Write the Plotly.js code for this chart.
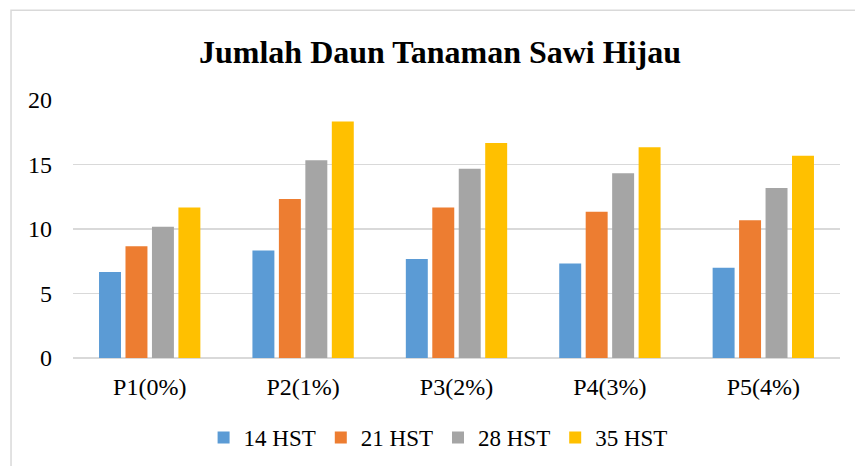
<!DOCTYPE html>
<html>
<head>
<meta charset="utf-8">
<script src="https://cdn.plot.ly/plotly-3.0.1.min.js"></script>
<style>
html,body{margin:0;padding:0;background:#fff;}
#chart{width:855px;height:466px;}
</style>
</head>
<body>
<div id="chart"></div>
<script>
const categories = ["P1(0%)", "P2(1%)", "P3(2%)", "P4(3%)", "P5(4%)"];
const seriesNames = ["14 HST", "21 HST", "28 HST", "35 HST"];
const hst14 = [6.67, 8.33, 7.67, 7.33, 7.00];
const hst21 = [8.67, 12.33, 11.67, 11.33, 10.67];
const hst28 = [10.17, 15.33, 14.67, 14.33, 13.17];
const hst35 = [11.67, 18.33, 16.67, 16.33, 15.67];
const colors = ["#5B9BD5", "#ED7D31", "#A5A5A5", "#FFC000"];
const yTicks = [0, 5, 10, 15, 20];

const FONT = 'Liberation Serif, Times New Roman, serif';
const allSeries = [hst14, hst21, hst28, hst35];

const traces = allSeries.map((vals, i) => ({
  type: 'bar',
  name: seriesNames[i],
  x: categories,
  y: vals,
  marker: {color: colors[i]},
  hoverinfo: 'none'
}));

const layout = {
  width: 855,
  height: 466,
  paper_bgcolor: '#ffffff',
  plot_bgcolor: '#ffffff',
  margin: {l: 73, r: 15, t: 100, b: 108, pad: 0, autoexpand: false},
  barmode: 'group',
  bargap: 0.31,
  bargroupgap: 0.17,
  font: {family: FONT, size: 23, color: '#000000'},
  title: {
    text: '<b>Jumlah Daun Tanaman Sawi Hijau</b>',
    font: {family: FONT, size: 32, color: '#000000'},
    xref: 'container', yref: 'container',
    x: 0.5146, xanchor: 'center',
    y: 0.888, yanchor: 'middle'
  },
  xaxis: {
    type: 'category',
    automargin: false,
    showgrid: false,
    showline: false,
    zeroline: false,
    ticks: '',
    ticklabelstandoff: 12,
    tickfont: {family: FONT, size: 24, color: '#000000'}
  },
  yaxis: {
    range: [0, 20],
    automargin: false,
    tickvals: yTicks,
    ticktext: yTicks.map(String),
    showgrid: true,
    gridcolor: '#D9D9D9',
    gridwidth: 1.5,
    zeroline: true,
    zerolinecolor: '#D9D9D9',
    zerolinewidth: 1.5,
    showline: false,
    ticks: '',
    ticklabelstandoff: 20,
    tickfont: {family: FONT, size: 24, color: '#000000'}
  },
  legend: {
    orientation: 'h',
    x: 0.476, xanchor: 'center',
    y: -0.308, yanchor: 'middle',
    font: {family: FONT, size: 23, color: '#000000'},
    bgcolor: 'rgba(0,0,0,0)',
    traceorder: 'normal'
  },
  shapes: [{
    type: 'rect',
    xref: 'paper', yref: 'paper',
    x0: -0.0808, x1: 1.03,
    y0: -0.45, y1: 1.348,
    line: {color: '#D9D9D9', width: 1.5},
    fillcolor: 'rgba(0,0,0,0)',
    layer: 'below'
  }],
  showlegend: true
};

Plotly.newPlot('chart', traces, layout, {displayModeBar: false, staticPlot: true});
</script>
</body>
</html>
